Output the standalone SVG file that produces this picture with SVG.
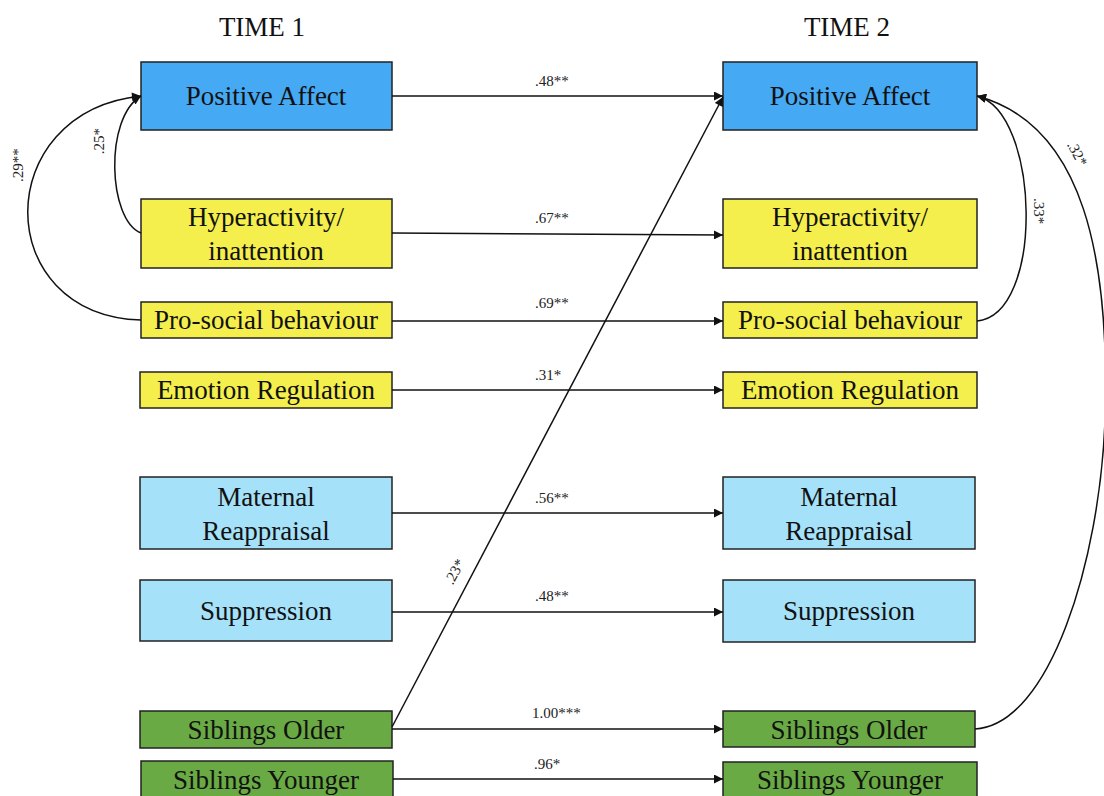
<svg xmlns="http://www.w3.org/2000/svg" width="1104" height="796" viewBox="0 0 1104 796">
  <defs>
    <marker id="arrow" viewBox="0 0 10 10" refX="10" refY="5" markerWidth="10" markerHeight="9" markerUnits="userSpaceOnUse" orient="auto">
      <path d="M0,0 L10,5 L0,10 Z" fill="#111"/>
    </marker>
    <style>
      .box { stroke: #222; stroke-width: 1.5; }
      .pa { fill: #46a9f3; }
      .yl { fill: #f4ef4c; }
      .lb { fill: #a5e2f9; }
      .gr { fill: #69aa44; }
      .lbl { font-family: "Liberation Serif", "Times New Roman", serif; font-size: 27px; fill: #111; text-anchor: middle; }
      .hdr { font-family: "Liberation Serif", "Times New Roman", serif; font-size: 27px; fill: #111; text-anchor: middle; }
      .coef { font-family: "Liberation Serif", "Times New Roman", serif; font-size: 15px; fill: #222; }
      .edge { fill: none; stroke: #111; stroke-width: 1.5; }
    </style>
  </defs>
  <rect width="1104" height="796" fill="#fff"/>

  <text class="hdr" x="262" y="36">TIME 1</text>
  <text class="hdr" x="847" y="36">TIME 2</text>

  <!-- Time 1 variables -->
  <g id="t1-positive-affect"><rect class="box pa" x="141" y="62" width="251" height="68"/><text class="lbl" x="266" y="105">Positive Affect</text></g>
  <g id="t1-hyperactivity"><rect class="box yl" x="141" y="199" width="251" height="69"/><text class="lbl" x="266" y="226">Hyperactivity/</text><text class="lbl" x="266" y="260">inattention</text></g>
  <g id="t1-prosocial"><rect class="box yl" x="141" y="302" width="251" height="36"/><text class="lbl" x="266" y="329">Pro-social behaviour</text></g>
  <g id="t1-emotion-regulation"><rect class="box yl" x="140" y="372" width="252" height="36"/><text class="lbl" x="266" y="399">Emotion Regulation</text></g>
  <g id="t1-maternal-reappraisal"><rect class="box lb" x="140" y="477" width="252" height="72"/><text class="lbl" x="266" y="506">Maternal</text><text class="lbl" x="266" y="540">Reappraisal</text></g>
  <g id="t1-suppression"><rect class="box lb" x="140" y="580" width="252" height="61"/><text class="lbl" x="266" y="620">Suppression</text></g>
  <g id="t1-siblings-older"><rect class="box gr" x="140" y="711" width="252" height="37"/><text class="lbl" x="266" y="739">Siblings Older</text></g>
  <g id="t1-siblings-younger"><rect class="box gr" x="141" y="761" width="252" height="40"/><text class="lbl" x="266" y="789">Siblings Younger</text></g>

  <!-- Time 2 variables -->
  <g id="t2-positive-affect"><rect class="box pa" x="723" y="62" width="254" height="68"/><text class="lbl" x="850" y="105">Positive Affect</text></g>
  <g id="t2-hyperactivity"><rect class="box yl" x="723" y="199" width="254" height="69"/><text class="lbl" x="850" y="226">Hyperactivity/</text><text class="lbl" x="850" y="260">inattention</text></g>
  <g id="t2-prosocial"><rect class="box yl" x="723" y="302" width="254" height="36"/><text class="lbl" x="850" y="329">Pro-social behaviour</text></g>
  <g id="t2-emotion-regulation"><rect class="box yl" x="723" y="372" width="254" height="36"/><text class="lbl" x="850" y="399">Emotion Regulation</text></g>
  <g id="t2-maternal-reappraisal"><rect class="box lb" x="723" y="477" width="252" height="72"/><text class="lbl" x="849" y="506">Maternal</text><text class="lbl" x="849" y="540">Reappraisal</text></g>
  <g id="t2-suppression"><rect class="box lb" x="723" y="580" width="252" height="62"/><text class="lbl" x="849" y="620">Suppression</text></g>
  <g id="t2-siblings-older"><rect class="box gr" x="723" y="711" width="252" height="36"/><text class="lbl" x="849" y="739">Siblings Older</text></g>
  <g id="t2-siblings-younger"><rect class="box gr" x="723" y="762" width="254" height="40"/><text class="lbl" x="850" y="789">Siblings Younger</text></g>

  <!-- Paths and correlations -->
  <g id="connectors">
    <path class="edge" marker-end="url(#arrow)" d="M392,96 L723,96"/>
    <path class="edge" marker-end="url(#arrow)" d="M392,233 L723,235"/>
    <path class="edge" marker-end="url(#arrow)" d="M392,321 L723,321"/>
    <path class="edge" marker-end="url(#arrow)" d="M392,390 L723,390"/>
    <path class="edge" marker-end="url(#arrow)" d="M392,513 L723,513"/>
    <path class="edge" marker-end="url(#arrow)" d="M392,612 L723,612"/>
    <path class="edge" marker-end="url(#arrow)" d="M392,729 L723,729"/>
    <path class="edge" marker-end="url(#arrow)" d="M393,779 L723,779"/>
    <path class="edge" marker-end="url(#arrow)" d="M392,727 L723,97"/>
    <path class="edge" marker-end="url(#arrow)" d="M141,233 C108,220 104,118 141,96"/>
    <path class="edge" marker-end="url(#arrow)" d="M141,320 C-10,315 -10,112 141,96"/>
    <path class="edge" marker-end="url(#arrow)" d="M977,321 C1045,315 1040,112 977,96"/>
    <path class="edge" marker-end="url(#arrow)" d="M975,729 C1050,725 1100,560 1105,420 C1110,260 1085,125 977,96"/>

    <text class="coef" x="535" y="86">.48**</text>
    <text class="coef" x="535" y="223">.67**</text>
    <text class="coef" x="535" y="308">.69**</text>
    <text class="coef" x="535" y="380">.31*</text>
    <text class="coef" x="535" y="503">.56**</text>
    <text class="coef" x="535" y="601">.48**</text>
    <text class="coef" x="532" y="718">1.00***</text>
    <text class="coef" x="534" y="769">.96*</text>
    <text class="coef" text-anchor="middle" transform="translate(23,165) rotate(-90)">.29**</text>
    <text class="coef" text-anchor="middle" transform="translate(104,141) rotate(-90)">.25*</text>
    <text class="coef" text-anchor="middle" transform="translate(1034,211) rotate(90)">.33*</text>
    <text class="coef" text-anchor="middle" transform="translate(1073,156) rotate(62)">.32*</text>
    <text class="coef" text-anchor="middle" transform="translate(459,574) rotate(-62)">.23*</text>
  </g>
</svg>
